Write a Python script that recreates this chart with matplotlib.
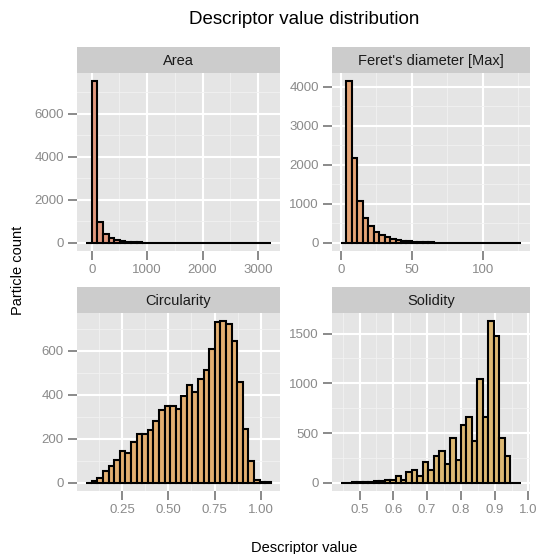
import numpy as np
import matplotlib
matplotlib.use("Agg")
import matplotlib.pyplot as plt
from matplotlib.ticker import FixedLocator

plt.rcParams['font.family'] = ['Liberation Sans', 'DejaVu Sans']

# Facet data: first bin edge, bin width, counts per bin
facets = ["Area", "Feret's diameter [Max]", "Circularity", "Solidity"]

area_start, area_width = -100, 101
area_counts = [0, 7530, 950, 425, 210, 130, 80, 50, 32, 22, 15, 10, 7, 5, 4, 3, 2,
               2, 1, 1, 1, 1, 1, 0, 1, 1, 0, 1, 0, 0, 0, 0, 1]

feret_start, feret_width = 0.0, 3.85
feret_counts = [0, 4150, 2168, 1080, 648, 432, 277, 200, 140, 104, 70, 50, 38, 28, 20,
                15, 12, 9, 7, 5, 4, 3, 3, 2, 2, 1, 1, 1, 1, 0, 1, 0, 1]

circ_start, circ_width = 0.057, 0.0302
circ_counts = [0, 8, 24, 53, 78, 103, 146, 134, 186, 221, 221, 239, 279, 330, 350, 350,
               336, 393, 446, 415, 472, 511, 609, 732, 735, 724, 644, 460, 245, 99, 15, 3, 2]

sol_start, sol_width = 0.445, 0.01615
sol_counts = [2, 3, 5, 8, 10, 13, 17, 23, 33, 27, 70, 27, 108, 128, 70, 212, 128, 269,
              323, 185, 454, 235, 582, 659, 424, 1043, 666, 1625, 1473, 447, 269, 3, 2]

starts = [area_start, feret_start, circ_start, sol_start]
widths = [area_width, feret_width, circ_width, sol_width]
counts = [area_counts, feret_counts, circ_counts, sol_counts]
fills = ["#E0987E", "#E4A476", "#E3AF70", "#DDB872"]

x_major = [[0, 1000, 2000, 3000], [0, 50, 100], [0.25, 0.5, 0.75, 1.0],
           [0.5, 0.6, 0.7, 0.8, 0.9, 1.0]]
x_labels = [["0", "1000", "2000", "3000"], ["0", "50", "100"],
            ["0.25", "0.50", "0.75", "1.00"], ["0.5", "0.6", "0.7", "0.8", "0.9", "1.0"]]
x_minor = [[-500, 500, 1500, 2500, 3500], [25, 75, 125], [0.125, 0.375, 0.625, 0.875],
           [0.45, 0.55, 0.65, 0.75, 0.85, 0.95]]
y_major = [[0, 2000, 4000, 6000], [0, 1000, 2000, 3000, 4000], [0, 200, 400, 600],
           [0, 500, 1000, 1500]]
y_minor = [[1000, 3000, 5000, 7000], [500, 1500, 2500, 3500], [100, 300, 500, 700],
           [250, 750, 1250]]

W, H = 542, 554
fig = plt.figure(figsize=(W / 100, H / 100), dpi=100)
fig.patch.set_facecolor("white")

def px_axes(x0, y0, x1, y1):
    return fig.add_axes([x0 / W, 1 - y1 / H, (x1 - x0) / W, (y1 - y0) / H])

# panel positions in pixels (left, right, strip top, panel top, panel bottom)
cols = [(77, 280), (332, 530)]
rows = [(47, 73, 251), (287, 313, 491)]

tick_grey = "#8A8A8A"

for i in range(4):
    r, c = divmod(i, 2)
    xl, xr = cols[c]
    st, pt, pb = rows[r]

    strip = px_axes(xl, st, xr, pt)
    strip.set_facecolor("#CCCCCC")
    strip.set_xticks([])
    strip.set_yticks([])
    for s in strip.spines.values():
        s.set_visible(False)
    strip.text(0.5, 0.48, facets[i], ha="center", va="center", fontsize=10.5,
               color="#1A1A1A", transform=strip.transAxes)

    ax = px_axes(xl, pt, xr, pb)
    ax.set_facecolor("#E5E5E5")
    n = len(counts[i])
    edges = starts[i] + widths[i] * np.arange(n + 1)
    ax.bar(edges[:-1], counts[i], width=widths[i], align="edge", color=fills[i],
           edgecolor="black", linewidth=1.5, zorder=3)

    span = edges[-1] - edges[0]
    ax.set_xlim(edges[0] - 0.05 * span, edges[-1] + 0.05 * span)
    ymax = max(counts[i])
    ax.set_ylim(-0.05 * ymax, 1.05 * ymax)

    ax.set_xticks(x_major[i])
    ax.set_xticklabels(x_labels[i])
    ax.set_yticks(y_major[i])
    ax.xaxis.set_minor_locator(FixedLocator(x_minor[i]))
    ax.yaxis.set_minor_locator(FixedLocator(y_minor[i]))
    ax.grid(which="major", color="white", linewidth=1.5, zorder=1)
    ax.grid(which="minor", color="#F2F2F2", linewidth=0.6, zorder=0)
    ax.set_axisbelow(True)
    ax.tick_params(which="major", length=6.5, width=1.4, color=tick_grey,
                   labelcolor=tick_grey, labelsize=9.5, pad=3)
    ax.tick_params(which="minor", length=0)
    for s in ax.spines.values():
        s.set_visible(False)

fig.text(304 / W, 1 - 20 / H, "Descriptor value distribution", ha="center",
         va="center", fontsize=13.5, color="black")
fig.text(304 / W, 1 - 548 / H, "Descriptor value", ha="center", va="center",
         fontsize=10.5, color="black")
fig.text(18 / W, 1 - 270 / H, "Particle count", ha="center", va="center",
         rotation=90, fontsize=10.5, color="black")

fig.savefig("out.png", dpi=100)
